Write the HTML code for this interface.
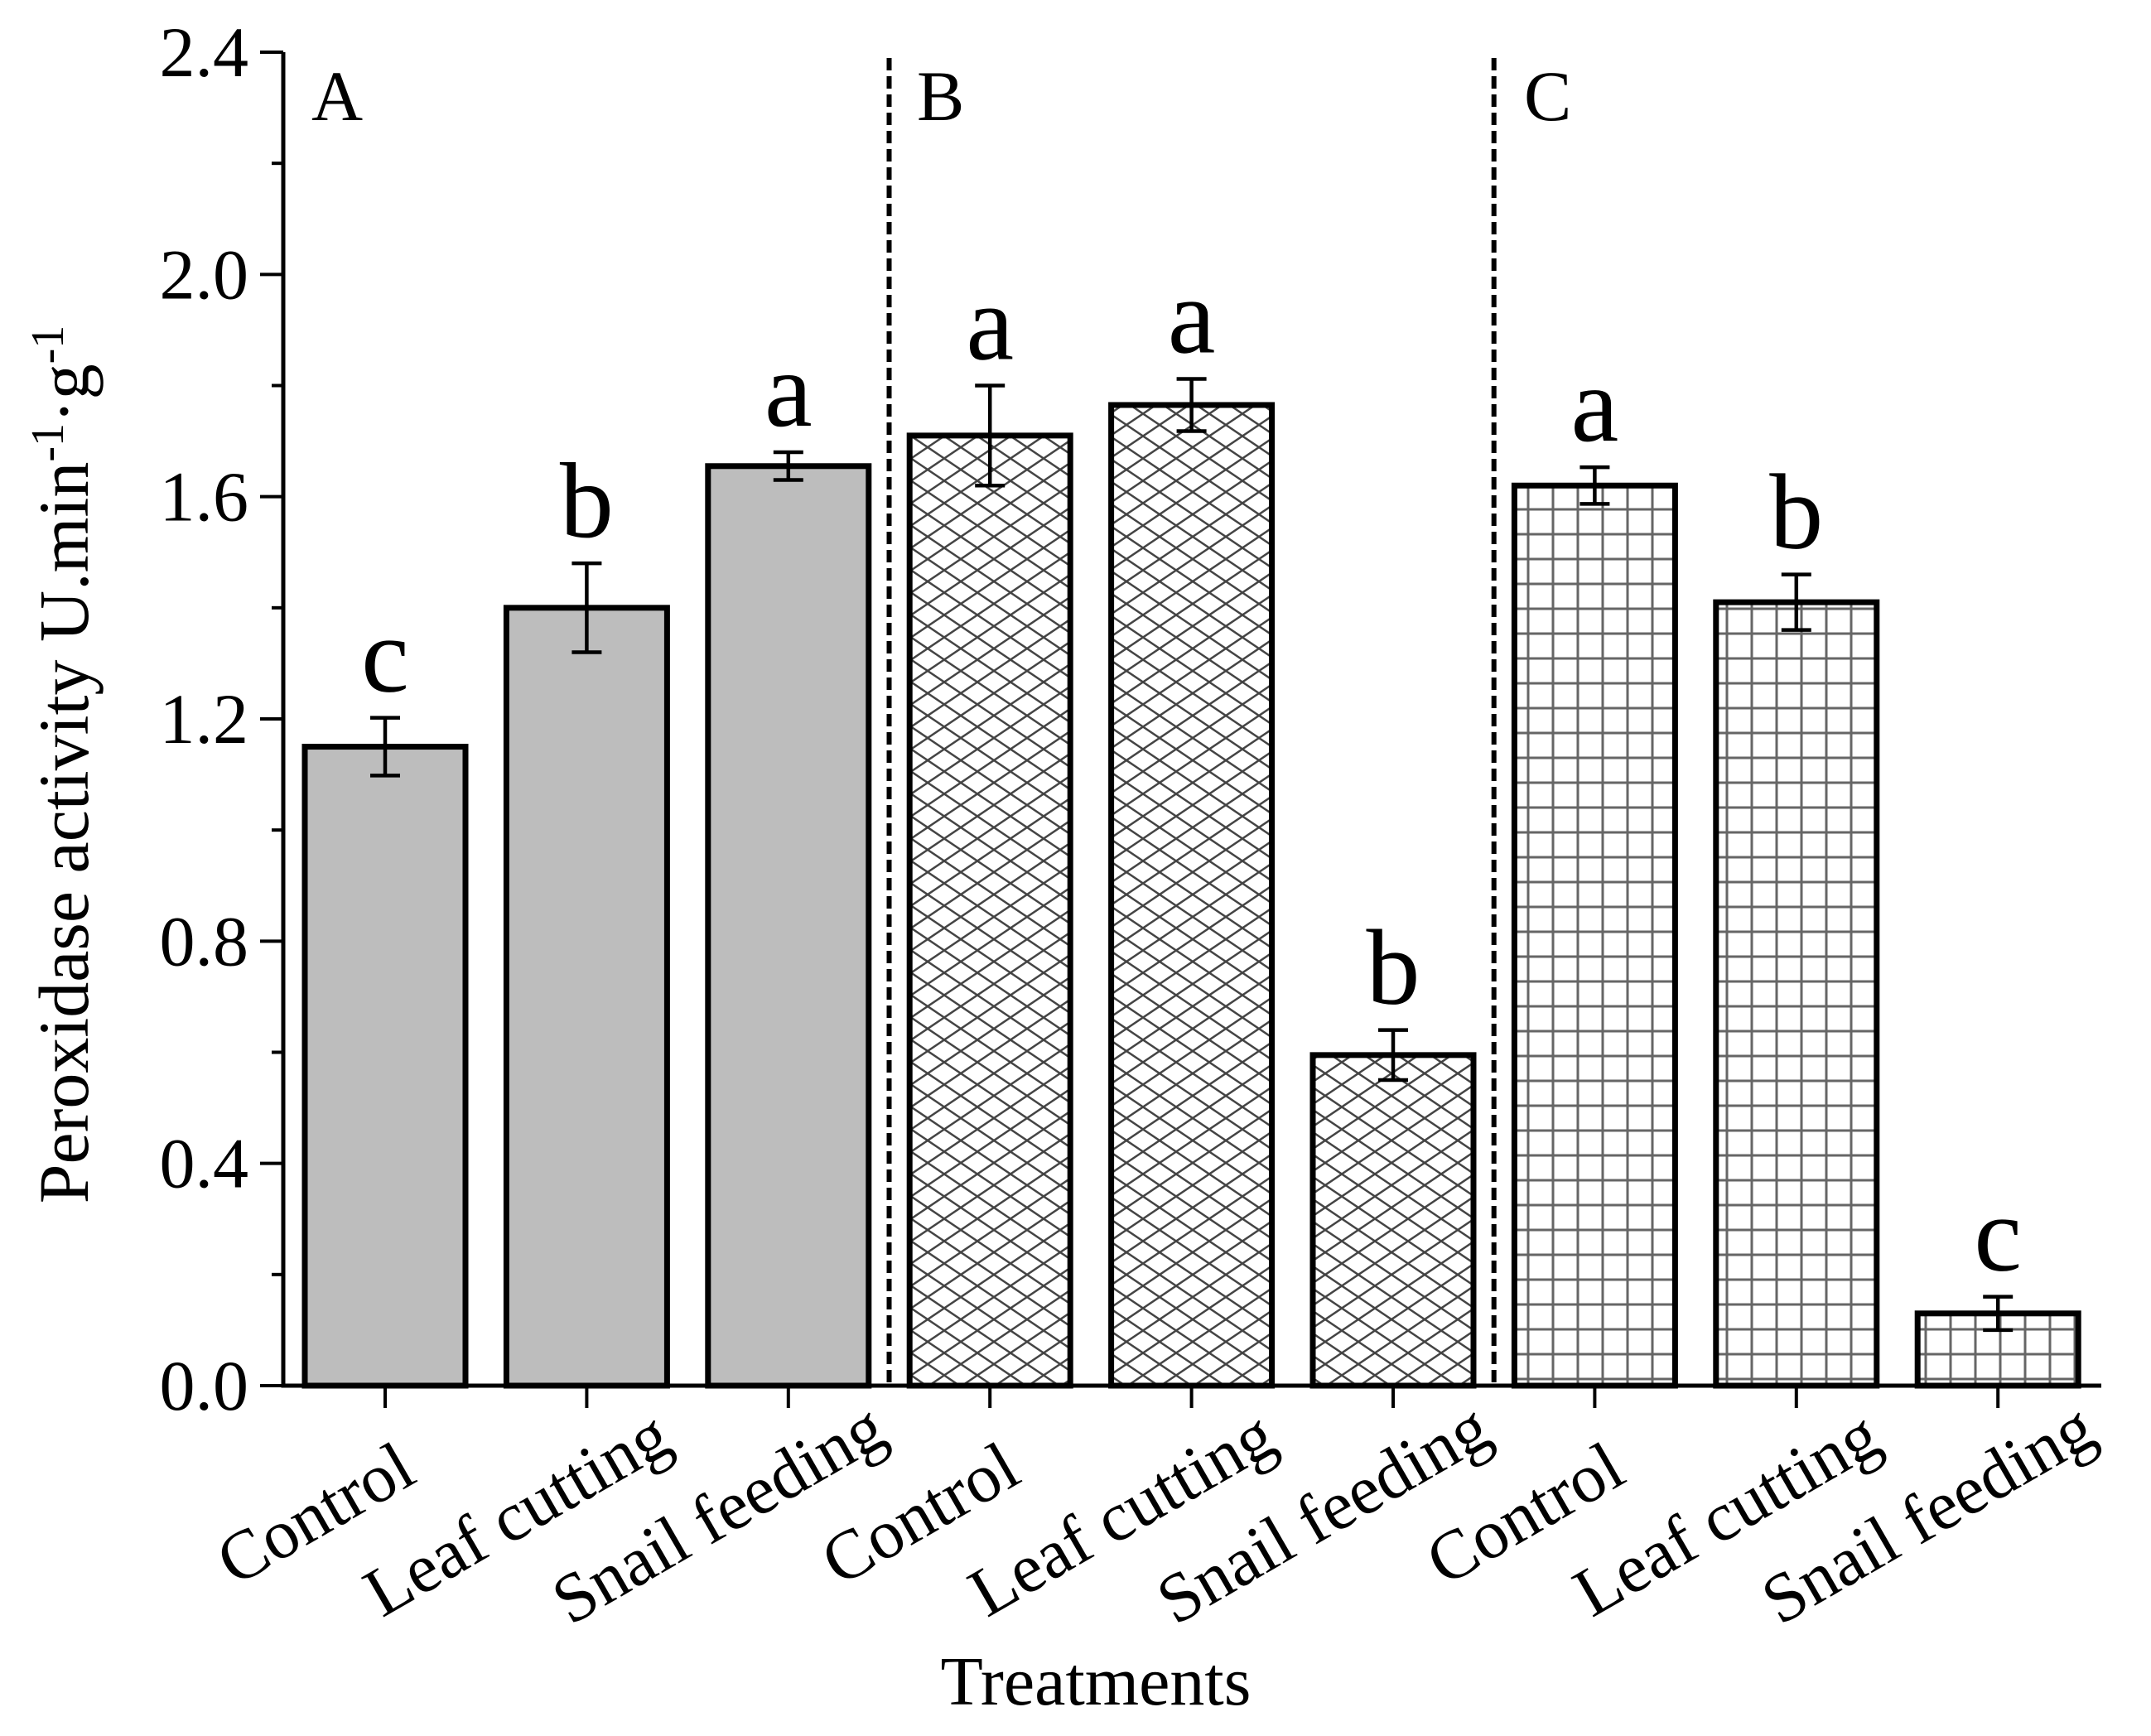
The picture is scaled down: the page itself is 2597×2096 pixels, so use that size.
<!DOCTYPE html>
<html><head><meta charset="utf-8">
<style>
html,body{margin:0;padding:0;background:#fff;}
svg{display:block;}
text{font-family:"Liberation Serif","Times New Roman",serif;fill:#000;}
</style></head>
<body>
<svg id="chart" width="2597" height="2096" viewBox="0 0 2597 2096" xmlns="http://www.w3.org/2000/svg">
<defs>
<pattern id="pat-cross" patternUnits="userSpaceOnUse" width="40" height="27" x="0" y="0">
<rect width="40" height="27" fill="#fff"/>
<path d="M0,0 L40,27 M40,0 L0,27" stroke="#444" stroke-width="2.5"/>
</pattern>
<pattern id="pat-grid" patternUnits="userSpaceOnUse" width="30" height="30" x="0" y="0">
<rect width="30" height="30" fill="#fff"/>
<path d="M15,0 L15,30" stroke="#666" stroke-width="3"/>
<path d="M0,15 L30,15" stroke="#666" stroke-width="3"/>
</pattern>
</defs>
<g id="plot"></g>
</svg>
<script>
const categories = ["Control","Leaf cutting","Snail feeding","Control","Leaf cutting","Snail feeding","Control","Leaf cutting","Snail feeding"];
const values = [1.15, 1.40, 1.655, 1.71, 1.765, 0.595, 1.62, 1.41, 0.13];
const errors = [0.052, 0.08, 0.025, 0.09, 0.047, 0.045, 0.033, 0.05, 0.03];
const sigLetters = ["c","b","a","a","a","b","a","b","c"];
const groups = [0,0,0,1,1,1,2,2,2];
const panelLabels = ["A","B","C"];
const yTicks = [0.0, 0.4, 0.8, 1.2, 1.6, 2.0, 2.4];
const yTickLabels = ["0.0","0.4","0.8","1.2","1.6","2.0","2.4"];
const yMinorTicks = [0.2, 0.6, 1.0, 1.4, 1.8, 2.2];

const NS = "http://www.w3.org/2000/svg";
const svg = document.getElementById('plot');
const X0 = 342, XEND = 2537, Y0 = 1673, YTOP = 63, YMAX = 2.4;
const firstTick = 465, step = 243.4, barW = 194;
function y(v){ return Y0 - (v / YMAX) * (Y0 - YTOP); }
function x(i){ return firstTick + i * step; }
function mk(tag, attrs){ const e = document.createElementNS(NS, tag); for (const k in attrs) e.setAttribute(k, attrs[k]); svg.appendChild(e); return e; }
const fills = ["#bdbdbd","url(#pat-cross)","url(#pat-grid)"];

categories.forEach((c, i) => {
  const v = values[i];
  const r = mk('rect', {x: x(i) - barW/2, y: y(v), width: barW, height: Y0 - y(v), fill: fills[groups[i]], stroke: '#000', 'stroke-width': 7});
  
  
  const e = errors[i];
  const g = mk('path', {d: `M${x(i)},${y(v+e)} L${x(i)},${y(v-e)} M${x(i)-18},${y(v+e)} L${x(i)+18},${y(v+e)} M${x(i)-18},${y(v-e)} L${x(i)+18},${y(v-e)}`, stroke: '#000', 'stroke-width': 4.5, fill: 'none'});
  
  
  const t = mk('text', {x: x(i), y: y(v+e) - 32, 'text-anchor': 'middle', 'font-size': 130});
  t.textContent = sigLetters[i];
  
  
  const tk = mk('line', {x1: x(i), x2: x(i), y1: Y0, y2: Y0 + 27, stroke: '#000', 'stroke-width': 4});
  
  
  const lx = x(i) - 80, ly = 1835;
  const lt = mk('text', {x: lx, y: ly, 'text-anchor': 'middle', 'dominant-baseline': 'middle', 'font-size': 84, transform: `rotate(-30 ${lx} ${ly})`});
  lt.textContent = c;
  
  
});

[2.5, 5.5].forEach(p => {
  const px = firstTick + p * step;
  const d = mk('line', {x1: px, x2: px, y1: 70, y2: Y0, stroke: '#000', 'stroke-width': 6, 'stroke-dasharray': '15 7'});
  
  
});
panelLabels.forEach((p, k) => {
  const px = [376, 1107, 1840][k];
  const t = mk('text', {x: px, y: 145, 'font-size': 86});
  t.textContent = p;
  
  
});

const ax = mk('path', {d: `M${X0},${YTOP} L${X0},${Y0} L${XEND},${Y0}`, stroke: '#000', 'stroke-width': 5, fill: 'none'});


yTicks.forEach((v, i) => {
  const l = mk('line', {x1: X0 - 28, x2: X0, y1: y(v), y2: y(v), stroke: '#000', 'stroke-width': 4});
  
  
  const t = mk('text', {x: X0 - 42, y: y(v) + 29, 'text-anchor': 'end', 'font-size': 86});
  t.textContent = yTickLabels[i];
  
  
});
yMinorTicks.forEach(v => {
  const l = mk('line', {x1: X0 - 14, x2: X0, y1: y(v), y2: y(v), stroke: '#000', 'stroke-width': 4});
  
  
});

const xt = mk('text', {x: 1323, y: 2058, 'text-anchor': 'middle', 'font-size': 84});
xt.textContent = 'Treatments';


const yt = mk('text', {x: 0, y: 0, 'text-anchor': 'middle', 'font-size': 86, transform: 'translate(106 923) rotate(-90)'});


yt.innerHTML = 'Peroxidase activity U.min<tspan dy="-30" font-size="56">-1</tspan><tspan dy="30">·g</tspan><tspan dy="-30" font-size="56">-1</tspan>';
</script>
</body></html>
